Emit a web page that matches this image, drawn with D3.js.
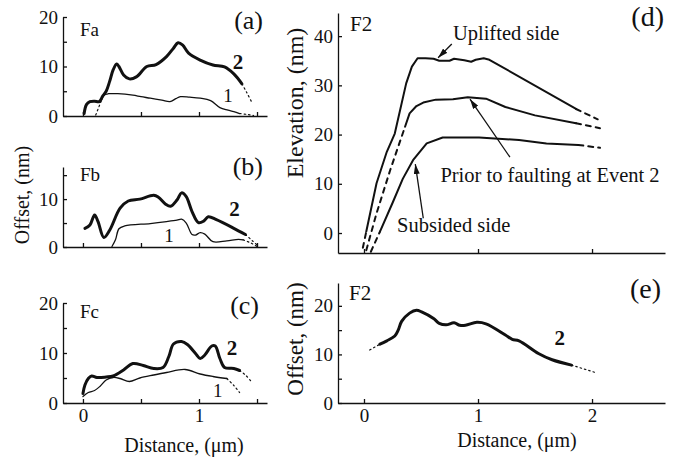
<!DOCTYPE html>
<html>
<head>
<meta charset="utf-8">
<script src="https://cdn.jsdelivr.net/npm/d3@7/dist/d3.min.js"></script>
<style>
  body { margin: 0; background: #fff; }
  svg text { font-family: "Liberation Serif", "Times New Roman", serif; fill: #111; }
</style>
</head>
<body>
<div id="chart"></div>
<script>
// ---- data (distance in um, offset / elevation in nm) ----
// panel (a) Fa
var fa2 = [[0.01,0.5],[0.03,2.3],[0.06,2.9],[0.1,3.0],[0.14,2.9],[0.17,4.0],[0.2,5.0],[0.23,7.0],[0.26,9.3],[0.29,10.5],[0.31,10.0],[0.35,8.3],[0.4,7.5],[0.46,7.9],[0.55,10.0],[0.63,10.4],[0.72,12.0],[0.78,13.7],[0.82,14.8],[0.86,14.3],[0.91,12.7],[1.01,11.3],[1.12,10.3],[1.22,9.9],[1.3,8.5],[1.37,6.5]];
var fa2Tail = [[1.37,6.5],[1.41,4.8],[1.45,3.0]];
var fa1Head = [[0.11,0.2],[0.16,3.2]];
var fa1 = [[0.16,3.2],[0.18,4.2],[0.22,4.5],[0.3,4.5],[0.43,4.2],[0.5,3.9],[0.58,3.6],[0.68,3.2],[0.75,2.9],[0.8,3.5],[0.84,3.9],[0.92,3.8],[1.01,3.6],[1.1,3.1],[1.18,1.7],[1.25,1.2],[1.3,0.9],[1.35,0.5]];
var fa1Tail = [[1.35,0.5],[1.42,0.3],[1.47,0.1]];

// panel (b) Fb
var fb2 = [[0.017,3.9],[0.06,4.6],[0.1,6.7],[0.13,5.3],[0.18,2.0],[0.23,3.5],[0.32,8.1],[0.39,9.6],[0.49,10.0],[0.61,10.8],[0.65,10.4],[0.71,9.0],[0.755,8.5],[0.81,9.8],[0.85,11.3],[0.89,10.5],[0.94,7.4],[0.995,5.1],[1.04,5.4],[1.08,6.3],[1.15,5.7],[1.3,3.9],[1.4,2.6]];
var fb2Tail = [[1.4,2.6],[1.46,1.3],[1.51,0.2]];
var fb1 = [[0.25,0.1],[0.28,1.5],[0.31,3.8],[0.36,4.4],[0.58,4.9],[0.72,5.3],[0.81,5.6],[0.85,5.8],[0.89,5.0],[0.94,2.6],[0.97,2.5],[1.01,3.0],[1.05,2.7],[1.12,1.1],[1.24,1.3],[1.34,1.6],[1.38,1.5]];
var fb1Tail = [[1.38,1.5],[1.45,0.8],[1.5,0.1]];

// panel (c) Fc
var fc2 = [[0.0,1.9],[0.017,3.6],[0.046,4.9],[0.075,5.4],[0.12,5.1],[0.2,5.2],[0.26,5.4],[0.35,6.6],[0.43,7.9],[0.52,7.5],[0.61,6.9],[0.69,7.1],[0.74,9.3],[0.78,11.8],[0.85,12.3],[0.9,11.7],[0.97,9.9],[1.01,8.9],[1.05,9.6],[1.11,11.4],[1.14,11.4],[1.18,8.9],[1.22,7.1],[1.3,6.9],[1.35,6.5]];
var fc2Tail = [[1.35,6.5],[1.4,5.6],[1.45,4.3]];
var fc1 = [[0,1.3],[0.046,2.1],[0.1,2.5],[0.15,3.4],[0.2,4.6],[0.26,5.1],[0.32,4.9],[0.4,4.3],[0.49,5.0],[0.61,5.6],[0.72,6.1],[0.88,6.7],[1.01,5.8],[1.12,5.3],[1.24,4.9]];
var fc1Tail = [[1.24,4.9],[1.3,3.5],[1.35,2.1]];

// panel (d) F2 elevation profiles
var upHead = [[-0.01,-3.0],[0.02,0.3]];
var uplifted = [[0.02,0.3],[0.11,10.1],[0.2,16.5],[0.27,20.2],[0.37,30.4],[0.42,33.8],[0.47,35.5],[0.54,35.5],[0.61,35.4],[0.66,35.0],[0.75,35.0],[0.79,35.4],[0.88,35.1],[0.94,34.8],[0.98,35.2],[1.05,35.5],[1.1,35.2],[1.86,25.2]];
var upTail = [[1.86,25.2],[2.05,23.1]];
var priorHead = [[0.02,-3.5],[0.11,4.0],[0.23,12.8],[0.36,21.6]];
var prior = [[0.36,21.6],[0.4,24.3],[0.46,25.8],[0.52,26.5],[0.63,27.1],[0.78,27.2],[0.91,27.6],[1.07,27.3],[1.24,25.6],[1.5,23.9],[1.86,22.3]];
var priorTail = [[1.86,22.3],[2.07,21.3]];
var subHead = [[0.06,-3.8],[0.14,0.3]];
var subsided = [[0.14,0.3],[0.25,6.1],[0.34,11.0],[0.43,14.8],[0.55,18.2],[0.69,19.4],[1.01,19.4],[1.36,18.9],[1.6,18.2],[1.88,17.9]];
var subTail = [[1.88,17.9],[2.07,17.3]];

// panel (e) F2 offset
var f2Head = [[0.05,10.9],[0.14,12.1]];
var f2 = [[0.14,12.1],[0.2,12.8],[0.27,13.8],[0.3,15.0],[0.33,16.8],[0.4,18.5],[0.46,19.1],[0.51,18.7],[0.61,17.4],[0.66,16.4],[0.72,16.1],[0.79,16.5],[0.84,16.0],[0.89,16.0],[0.99,16.6],[1.07,16.3],[1.24,14.0],[1.3,13.1],[1.36,12.8],[1.53,10.2],[1.65,8.9],[1.82,7.8]];
var f2Tail = [[1.82,7.8],[2.04,6.2]];

var leftXTicks = [0, 0.5, 1, 1.5];
var rightXTicks = [0, 1, 2];
var offsetTicks = [0, 5, 10, 15, 20];
var elevTicks = [0, 10, 20, 30, 40];

var W = 675, H = 460;
var svg = d3.select("#chart").append("svg").attr("width", W).attr("height", H);

svg.append("defs").append("marker")
    .attr("id", "arrow")
    .attr("viewBox", "0 0 10 6")
    .attr("refX", 10).attr("refY", 3)
    .attr("markerWidth", 10).attr("markerHeight", 6)
    .attr("markerUnits", "userSpaceOnUse")
    .attr("orient", "auto")
    .append("path").attr("d", "M0,0 L10,3 L0,6 Z").attr("fill", "#111");

function panel(p) {
    var x = d3.scaleLinear().domain(p.xd).range(p.xr);
    var y = d3.scaleLinear().domain(p.yd).range(p.yr);
    var g = svg.append("g");

    var ya = d3.axisLeft(y).tickValues(p.yt).tickSizeInner(-4).tickSizeOuter(0).tickPadding(5)
        .tickFormat(function(d){ return p.yl.indexOf(d) >= 0 ? d : ""; });
    var xa = d3.axisBottom(x).tickValues(p.xt).tickSizeInner(-4).tickSizeOuter(0).tickPadding(6)
        .tickFormat(function(d){ return p.xl.indexOf(d) >= 0 ? d : ""; });

    g.append("g").attr("transform", "translate(" + p.xr[0] + ",0)").call(ya);
    g.append("g").attr("transform", "translate(0," + p.yr[0] + ")").call(xa);
    g.selectAll(".domain, .tick line").attr("stroke", "#111").attr("stroke-width", 1.3);
    g.selectAll(".tick text").attr("font-size", 19).attr("fill", "#111");

    var line = d3.line().x(function(d){ return x(d[0]); }).y(function(d){ return y(d[1]); })
        .curve(p.curve || d3.curveCatmullRom.alpha(0.5));
    p.series.forEach(function(s) {
        g.append("path").datum(s.data)
            .attr("d", line)
            .attr("fill", "none")
            .attr("stroke", "#111")
            .attr("stroke-width", s.w)
            .attr("stroke-linecap", "round")
            .attr("stroke-linejoin", "round")
            .attr("stroke-dasharray", s.dash || null);
    });
    (p.texts || []).forEach(function(t) {
        g.append("text")
            .attr("x", t.px !== undefined ? t.px : x(t.x))
            .attr("y", t.py !== undefined ? t.py : y(t.y))
            .attr("font-size", t.size)
            .attr("font-weight", t.bold ? "bold" : null)
            .attr("text-anchor", t.anchor || "start")
            .text(t.s);
    });
    (p.arrows || []).forEach(function(a) {
        g.append("line")
            .attr("x1", x(a[0][0])).attr("y1", y(a[0][1]))
            .attr("x2", x(a[1][0])).attr("y2", y(a[1][1]))
            .attr("stroke", "#111").attr("stroke-width", 1.3)
            .attr("marker-end", "url(#arrow)");
    });
    return g;
}

var leftX = [-0.172, 1.586], leftXR = [63, 267];
var rightX = [-0.228, 2.64], rightXR = [338, 665];
var dots = "1.5,3";
var dashes = "5,5";

panel({
    xd: leftX, xr: leftXR, yd: [0, 20], yr: [116, 17],
    xt: leftXTicks, xl: [], yt: offsetTicks, yl: [0, 10, 20],
    series: [
        {data: fa2, w: 3}, {data: fa2Tail, w: 1.2, dash: dots},
        {data: fa1Head, w: 1.2, dash: dots}, {data: fa1, w: 1.3}, {data: fa1Tail, w: 1.2, dash: dots}
    ],
    texts: [
        {s: "Fa", px: 80, py: 36, size: 19},
        {s: "(a)", px: 263, py: 29, size: 26, anchor: "end"},
        {s: "2", x: 1.29, y: 9.4, size: 21, bold: true},
        {s: "1", x: 1.21, y: 2.8, size: 19}
    ]
});

panel({
    xd: leftX, xr: leftXR, yd: [0, 16.7], yr: [247, 167],
    xt: leftXTicks, xl: [], yt: [0, 5, 10, 15], yl: [0, 10],
    series: [
        {data: fb2, w: 3}, {data: fb2Tail, w: 1.2, dash: dots},
        {data: fb1, w: 1.3}, {data: fb1Tail, w: 1.2, dash: dots}
    ],
    texts: [
        {s: "Fb", px: 80, py: 181, size: 19},
        {s: "(b)", px: 263, py: 175, size: 26, anchor: "end"},
        {s: "2", x: 1.26, y: 6.5, size: 21, bold: true},
        {s: "1", x: 0.7, y: 1.0, size: 19}
    ]
});

panel({
    xd: leftX, xr: leftXR, yd: [0, 20], yr: [403, 303],
    xt: leftXTicks, xl: [0, 1], yt: offsetTicks, yl: [0, 10, 20],
    series: [
        {data: fc2, w: 3}, {data: fc2Tail, w: 1.2, dash: dots},
        {data: fc1, w: 1.3}, {data: fc1Tail, w: 1.2, dash: dots}
    ],
    texts: [
        {s: "Fc", px: 80, py: 318, size: 19},
        {s: "(c)", px: 259, py: 314, size: 26, anchor: "end"},
        {s: "2", x: 1.24, y: 9.6, size: 21, bold: true},
        {s: "1", x: 1.12, y: 1.2, size: 19},
        {s: "Distance, (\u03bcm)", px: 184, py: 452, size: 20, anchor: "middle"}
    ]
});

panel({
    xd: rightX, xr: rightXR, yd: [-4.06, 44.7], yr: [253, 13],
    xt: rightXTicks, xl: [], yt: elevTicks, yl: elevTicks,
    curve: d3.curveLinear,
    series: [
        {data: upHead, w: 2, dash: dashes}, {data: uplifted, w: 2}, {data: upTail, w: 2, dash: dashes},
        {data: priorHead, w: 2, dash: dashes}, {data: prior, w: 2}, {data: priorTail, w: 2, dash: dashes},
        {data: subHead, w: 2, dash: dashes}, {data: subsided, w: 2}, {data: subTail, w: 2, dash: dashes}
    ],
    texts: [
        {s: "F2", px: 350, py: 31, size: 21},
        {s: "(d)", px: 664, py: 26, size: 28, anchor: "end"},
        {s: "Uplifted side", x: 0.78, y: 39.2, size: 20.5},
        {s: "Prior to faulting at Event 2", x: 0.67, y: 10.4, size: 20.5},
        {s: "Subsided side", x: 0.29, y: 0.2, size: 20.5}
    ],
    arrows: [
        [[0.77, 38.4], [0.65, 35.6]],
        [[1.28, 15.4], [0.93, 27.2]],
        [[0.52, 3.0], [0.45, 14.0]]
    ]
});

panel({
    xd: rightX, xr: rightXR, yd: [0, 24.7], yr: [403, 283],
    xt: rightXTicks, xl: rightXTicks, yt: offsetTicks, yl: [0, 10, 20],
    series: [
        {data: f2Head, w: 1.2, dash: dots}, {data: f2, w: 3}, {data: f2Tail, w: 1.2, dash: dots}
    ],
    texts: [
        {s: "F2", px: 349, py: 300, size: 21},
        {s: "(e)", px: 661, py: 298, size: 28, anchor: "end"},
        {s: "2", x: 1.67, y: 12.0, size: 21, bold: true},
        {s: "Distance, (\u03bcm)", px: 517, py: 447, size: 20, anchor: "middle"}
    ]
});

// rotated y axis titles
function ylabel(s, cx, cy, size) {
    svg.append("text")
        .attr("transform", "translate(" + cx + "," + cy + ") rotate(-90)")
        .attr("text-anchor", "middle")
        .attr("dominant-baseline", "central")
        .attr("font-size", size)
        .text(s);
}
ylabel("Offset, (nm)", 22, 195, 20);
ylabel("Elevation, (nm)", 295, 103, 24);
ylabel("Offset, (nm)", 295, 339, 23);
</script>
</body>
</html>
